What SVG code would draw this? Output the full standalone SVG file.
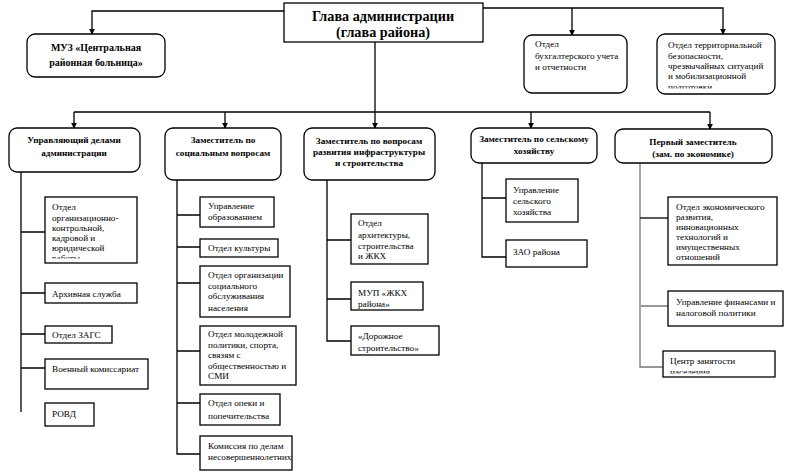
<svg xmlns="http://www.w3.org/2000/svg" width="789" height="476" viewBox="0 0 789 476">
<style>
.bx{fill:#fff;stroke:#000;stroke-width:1.3}
.t{font-family:"Liberation Serif","Times New Roman",serif;font-size:9.2px;fill:#000}
.h{font-family:"Liberation Serif","Times New Roman",serif;font-size:9.2px;font-weight:bold;fill:#000;text-anchor:middle}
.c{fill:none;stroke:#000;stroke-width:1.3}
.g{fill:none;stroke:#777;stroke-width:1.3}
</style>
<defs>
<marker id="ar" viewBox="0 0 8 8" refX="7" refY="4" markerWidth="6" markerHeight="6" orient="auto" markerUnits="userSpaceOnUse"><path d="M0,0 L8,4 L0,8 z" fill="#000"/></marker>
<clipPath id="cp1"><rect x="657" y="34" width="118" height="54.5"/></clipPath>
<clipPath id="cp2"><rect x="45" y="197" width="92" height="61.5"/></clipPath>
<clipPath id="cp3"><rect x="663" y="351" width="112" height="22.5"/></clipPath>
</defs>
<g id="connectors">
<path class="c" d="M284,11 H92 V34" marker-end="url(#ar)"/>
<path class="c" d="M483,8 H723 V34" marker-end="url(#ar)"/>
<path class="c" d="M572,8 V35" marker-end="url(#ar)"/>
<path class="c" d="M375,42 V112"/>
<path class="c" d="M74,112 H710"/>
<path class="c" d="M74,112 V128" marker-end="url(#ar)"/>
<path class="c" d="M225,112 V128" marker-end="url(#ar)"/>
<path class="c" d="M375,112 V128" marker-end="url(#ar)"/>
<path class="c" d="M531,112 V128" marker-end="url(#ar)"/>
<path class="c" d="M710,112 V129" marker-end="url(#ar)"/>
<path class="c" d="M21,172 V412 M21,232 H45 M21,293 H45 M21,334 H45 M21,368 H45"/>
<path class="c" d="M177,180 V454 H200 M177,215 H200 M177,247 H200 M177,283 H200 M177,351 H200 M177,403 H200"/>
<path class="c" d="M327,180 V341 H351 M327,240 H351 M327,299 H351"/>
<path class="c" d="M482,163 V257 H506 M482,198 H506"/>
<path class="g" d="M640,163 V367 H663 M641,306 H668"/>
<path class="c" d="M640,218 H668"/>
</g>
<g id="glava">
<rect class="bx" x="284" y="3" width="199" height="39"/>
<text class="h" x="383" y="21" style="font-size:14.2px">Глава администрации</text>
<text class="h" x="383" y="37" style="font-size:14.2px">(глава района)</text>
</g>
<g id="muz">
<rect class="bx" x="27" y="34" width="138" height="43" rx="8"/>
<text class="h" x="96" y="51" style="font-size:10px">МУЗ «Центральная</text>
<text class="h" x="96" y="66" style="font-size:10px">районная больница»</text>
</g>
<g id="buh">
<rect class="bx" x="524" y="35" width="103" height="58" rx="8"/>
<text class="t" x="535" y="47">Отдел</text>
<text class="t" x="535" y="59">бухгалтерского учета</text>
<text class="t" x="535" y="70">и отчетности</text>
</g>
<g id="terr">
<rect class="bx" x="657" y="34" width="118" height="60" rx="8"/>
<g clip-path="url(#cp1)">
<text class="t" x="668" y="48">Отдел территориальной</text>
<text class="t" x="668" y="59">безопасности,</text>
<text class="t" x="668" y="69">чрезвычайных ситуаций</text>
<text class="t" x="668" y="79">и мобилизационной</text>
<text class="t" x="668" y="90">подготовки</text>
</g>
</g>
<g id="upr">
<rect class="bx" x="9" y="128" width="131" height="44" rx="8"/>
<text class="h" x="74" y="143">Управляющий делами</text>
<text class="h" x="74" y="156">администрации</text>
</g>
<g id="soc">
<rect class="bx" x="165" y="128" width="116" height="52" rx="8"/>
<text class="h" x="223" y="143">Заместитель по</text>
<text class="h" x="223" y="156">социальным вопросам</text>
</g>
<g id="infra">
<rect class="bx" x="304" y="128" width="131" height="52" rx="8"/>
<text class="h" x="369" y="144">Заместитель по вопросам</text>
<text class="h" x="369" y="155">развития инфраструктуры</text>
<text class="h" x="369" y="166">и строительства</text>
</g>
<g id="selh">
<rect class="bx" x="471" y="128" width="126" height="35" rx="8"/>
<text class="h" x="534" y="142">Заместитель по сельскому</text>
<text class="h" x="534" y="154">хозяйству</text>
</g>
<g id="perv">
<rect class="bx" x="615" y="129" width="157" height="34" rx="8"/>
<text class="h" x="693" y="145">Первый заместитель</text>
<text class="h" x="693" y="157">(зам. по экономике)</text>
</g>
<g id="orgkontr">
<rect class="bx" x="45" y="197" width="92" height="66"/>
<g clip-path="url(#cp2)">
<text class="t" x="52" y="210">Отдел</text>
<text class="t" x="52" y="221">организационно-</text>
<text class="t" x="52" y="231">контрольной,</text>
<text class="t" x="52" y="241">кадровой и</text>
<text class="t" x="52" y="251">юридической</text>
<text class="t" x="52" y="261">работы</text>
</g>
</g>
<g id="arhiv">
<rect class="bx" x="45" y="283" width="92" height="20"/>
<text class="t" x="52" y="297">Архивная служба</text>
</g>
<g id="zags">
<rect class="bx" x="45" y="326" width="67" height="17"/>
<text class="t" x="52" y="338">Отдел ЗАГС</text>
</g>
<g id="voen">
<rect class="bx" x="45" y="359" width="103" height="30"/>
<text class="t" x="52" y="372">Военный комиссариат</text>
</g>
<g id="rovd">
<rect class="bx" x="45" y="403" width="49" height="23"/>
<text class="t" x="52" y="417">РОВД</text>
</g>
<g id="obraz">
<rect class="bx" x="200" y="197" width="74" height="30"/>
<text class="t" x="208" y="209">Управление</text>
<text class="t" x="208" y="220">образованием</text>
</g>
<g id="kult">
<rect class="bx" x="200" y="239" width="78" height="18"/>
<text class="t" x="208" y="251">Отдел культуры</text>
</g>
<g id="socobs">
<rect class="bx" x="200" y="266" width="90" height="51"/>
<text class="t" x="208" y="278">Отдел организации</text>
<text class="t" x="208" y="289">социального</text>
<text class="t" x="208" y="299">обслуживания</text>
<text class="t" x="208" y="311">населения</text>
</g>
<g id="molod">
<rect class="bx" x="200" y="326" width="96" height="59"/>
<text class="t" x="208" y="337">Отдел молодежной</text>
<text class="t" x="208" y="348">политики, спорта,</text>
<text class="t" x="208" y="358">связям с</text>
<text class="t" x="208" y="369">общественностью и</text>
<text class="t" x="208" y="379">СМИ</text>
</g>
<g id="opeka">
<rect class="bx" x="200" y="394" width="80" height="31"/>
<text class="t" x="208" y="406">Отдел опеки и</text>
<text class="t" x="208" y="419">попечительства</text>
</g>
<g id="komis">
<rect class="bx" x="200" y="436" width="92" height="34"/>
<text class="t" x="208" y="449">Комиссия по делам</text>
<text class="t" x="208" y="460">несовершеннолетних</text>
</g>
<g id="arh">
<rect class="bx" x="351" y="214" width="77" height="50"/>
<text class="t" x="358" y="226">Отдел</text>
<text class="t" x="358" y="238">архитектуры,</text>
<text class="t" x="358" y="249">строительства</text>
<text class="t" x="358" y="259">и ЖКХ</text>
</g>
<g id="mup">
<rect class="bx" x="351" y="282" width="72" height="28"/>
<text class="t" x="358" y="296">МУП «ЖКХ</text>
<text class="t" x="358" y="307">района»</text>
</g>
<g id="dor">
<rect class="bx" x="351" y="326" width="88" height="29"/>
<text class="t" x="358" y="339">«Дорожное</text>
<text class="t" x="358" y="351">строительство»</text>
</g>
<g id="uprsh">
<rect class="bx" x="506" y="179" width="72" height="43"/>
<text class="t" x="513" y="193">Управление</text>
<text class="t" x="513" y="204">сельского</text>
<text class="t" x="513" y="215">хозяйства</text>
</g>
<g id="zao">
<rect class="bx" x="506" y="240" width="81" height="27"/>
<text class="t" x="513" y="255">ЗАО района</text>
</g>
<g id="econ">
<rect class="bx" x="668" y="197" width="109" height="68"/>
<text class="t" x="676" y="210">Отдел экономического</text>
<text class="t" x="676" y="220">развития,</text>
<text class="t" x="676" y="230">инновационных</text>
<text class="t" x="676" y="240">технологий и</text>
<text class="t" x="676" y="250">имущественных</text>
<text class="t" x="676" y="260">отношений</text>
</g>
<g id="fin">
<rect class="bx" x="668" y="291" width="115" height="35"/>
<text class="t" x="676" y="305">Управление финансами и</text>
<text class="t" x="676" y="316">налоговой политики</text>
</g>
<g id="czn">
<rect class="bx" x="663" y="351" width="112" height="26"/>
<g clip-path="url(#cp3)">
<text class="t" x="670" y="364">Центр занятости</text>
<text class="t" x="670" y="375">населения</text>
</g>
</g>
</svg>
